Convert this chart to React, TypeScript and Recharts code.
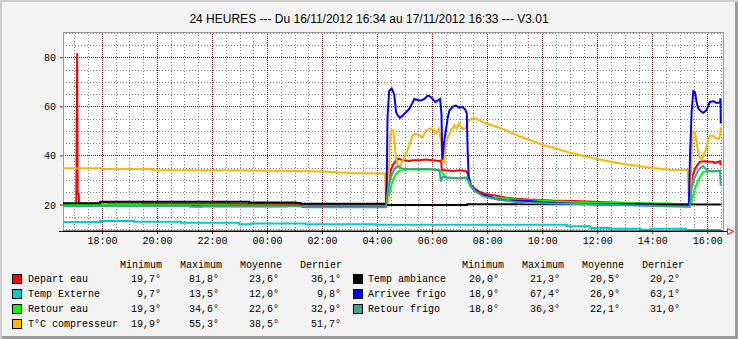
import React from 'react';
import { LineChart, Line, XAxis, YAxis, CartesianGrid, ReferenceArea } from 'recharts';

// time axis: hours since midnight of 16/11/2012 (24+ = next day)
const X_MIN = 16.567;
const X_MAX = 40.55;
const Y_MIN = 9.4;
const Y_MAX = 90.5;

const xTicks = [18, 20, 22, 24, 26, 28, 30, 32, 34, 36, 38, 40];
const yTicks = [20, 40, 60, 80];
const yMinor = [10, 15, 25, 30, 35, 45, 50, 55, 65, 70, 75, 85, 90];
const xMinor = [17, 17.5, 18.5, 19, 19.5, 20.5, 21, 21.5, 22.5, 23, 23.5, 24.5, 25, 25.5, 26.5, 27, 27.5, 28.5, 29, 29.5, 30.5, 31, 31.5, 32.5, 33, 33.5, 34.5, 35, 35.5, 36.5, 37, 37.5, 38.5, 39, 39.5, 40.5];

const departEau: [number, number][] = [
  [16.57, 20.4], [17.05, 20.4], [17.08, 81.8], [17.1, 24.5], [17.14, 24.5], [17.15, 20.5], [17.92, 20.5], [17.92, 21.0],
  [18.24, 21.0], [18.24, 20.5], [22.6, 20.5], [22.6, 20.4], [28.3, 20.4], [28.36, 24.7], [28.42, 30.1], [28.48, 34.2],
  [28.55, 36.2], [28.67, 38.2], [28.76, 38.9], [28.85, 38.5], [28.97, 38.2], [29.15, 37.9], [29.27, 38.2], [29.52, 38.2],
  [29.76, 38.5], [30.0, 38.2], [30.24, 37.9], [30.31, 38.2], [30.33, 34.2], [30.48, 34.2], [30.73, 33.9], [30.97, 34.2],
  [31.21, 33.9], [31.27, 32.8], [31.33, 30.1], [31.39, 28.1], [31.52, 26.8], [31.7, 25.4], [31.92, 24.5], [32.1, 24.2],
  [32.46, 23.5], [32.7, 22.9], [32.95, 22.6], [33.49, 22.2], [33.98, 22.0], [34.34, 21.8], [35.13, 21.6], [36.34, 21.1],
  [37.55, 20.7], [37.92, 20.4], [38.64, 20.4], [39.33, 20.2], [39.38, 26.7], [39.43, 31.4], [39.51, 34.1], [39.59, 35.9],
  [39.71, 37.6], [39.89, 37.8], [40.07, 37.6], [40.2, 37.6], [40.25, 37.1], [40.38, 37.6], [40.44, 37.8], [40.47, 36.1],
];

const tempExterne: [number, number][] = [
  [16.57, 13.1], [17.92, 13.1], [17.92, 13.5], [19.15, 13.5], [19.15, 13.2], [20.85, 13.2], [20.85, 12.8], [22.97, 12.8],
  [22.97, 12.2], [23.39, 12.2], [23.39, 12.5], [25.39, 12.5], [25.39, 12.2], [27.94, 12.2], [27.94, 11.9], [34.88, 11.9],
  [34.88, 11.3], [35.73, 11.3], [35.73, 10.6], [36.46, 10.6], [36.46, 10.3], [37.55, 10.3], [37.55, 9.9], [37.92, 9.9],
  [37.92, 10.3], [39.21, 10.3], [39.21, 9.8], [40.47, 9.8],
];

const retourEau: [number, number][] = [
  [16.57, 20.2], [19.39, 20.2], [19.39, 19.9], [22.6, 19.9], [22.6, 19.8], [28.33, 19.6], [28.4, 23.4], [28.48, 27.4],
  [28.55, 30.1], [28.67, 32.8], [28.79, 33.9], [28.97, 34.5], [29.27, 34.5], [29.76, 34.6], [30.0, 34.5], [30.24, 34.2],
  [30.33, 33.5], [30.48, 31.2], [30.97, 30.9], [31.21, 31.2], [31.27, 30.1], [31.39, 27.4], [31.52, 25.8], [31.7, 24.5],
  [31.94, 23.6], [32.18, 23.2], [32.7, 22.5], [33.49, 21.8], [33.98, 21.8], [34.34, 21.5], [35.25, 21.1], [36.34, 20.8],
  [37.92, 20.7], [38.64, 20.6], [39.38, 20.0], [39.47, 24.0], [39.53, 26.7], [39.63, 29.4], [39.71, 31.4], [39.83, 33.5],
  [40.01, 33.7], [40.25, 33.7], [40.44, 33.8], [40.47, 32.9],
];

const compresseur: [number, number][] = [
  [16.57, 35.0], [17.95, 35.0], [17.95, 34.7], [19.8, 34.7], [19.8, 34.3], [22.5, 34.2], [24.5, 34.0], [26.0, 33.6],
  [27.0, 33.0], [28.27, 32.8], [28.3, 21.0], [28.36, 20.3], [28.41, 35.0], [28.45, 47.7], [28.48, 50.4], [28.57, 50.4],
  [28.61, 45.7], [28.67, 38.9], [28.73, 36.2], [28.79, 35.5], [28.85, 36.2], [28.91, 38.2], [29.03, 40.9], [29.15, 44.3],
  [29.27, 48.4], [29.37, 49.0], [29.52, 48.4], [29.64, 47.7], [29.76, 50.4], [29.88, 51.1], [30.0, 51.1], [30.12, 49.1],
  [30.22, 51.1], [30.3, 46.4], [30.36, 38.2], [30.42, 37.5], [30.46, 43.6], [30.55, 47.7], [30.67, 50.4], [30.79, 52.4],
  [30.87, 51.1], [30.95, 53.1], [31.03, 51.8], [31.09, 51.1], [31.19, 51.1], [31.27, 53.8], [31.39, 55.1], [31.58, 55.3],
  [31.82, 53.8], [32.18, 52.4], [32.67, 50.4], [33.15, 48.0], [34.0, 44.5], [35.0, 41.3], [36.0, 38.6], [37.0, 36.6],
  [38.0, 35.1], [38.6, 34.4], [39.27, 34.3], [39.31, 21.4], [39.37, 22.0], [39.43, 49.9], [39.52, 49.9], [39.58, 46.5],
  [39.64, 41.8], [39.7, 39.5], [39.76, 38.6], [39.82, 39.5], [39.92, 42.4], [40.0, 45.8], [40.07, 48.2], [40.18, 48.2],
  [40.3, 47.2], [40.4, 47.0], [40.45, 48.5], [40.47, 51.7],
];

const tempAmbiance: [number, number][] = [
  [16.57, 20.7], [17.92, 20.7], [17.92, 21.3], [23.33, 21.3], [23.33, 21.0], [25.03, 21.0], [25.03, 20.8], [25.2, 20.8],
  [25.2, 20.5], [28.3, 20.5], [28.33, 20.0], [31.25, 20.0], [31.25, 20.3], [35.5, 20.3], [35.5, 20.4], [38.0, 20.4],
  [38.0, 20.3], [40.47, 20.2],
];

const arriveeFrigo: [number, number][] = [
  [16.57, 19.6], [21.3, 19.6], [21.3, 19.45], [24.7, 19.45], [24.7, 19.6], [25.27, 19.6], [25.27, 19.3], [28.3, 19.3],
  [28.33, 30.0], [28.36, 55.8], [28.42, 66.6], [28.51, 67.4], [28.57, 66.0], [28.61, 64.6], [28.67, 57.8], [28.73, 56.5],
  [28.81, 55.5], [28.91, 56.5], [29.03, 57.8], [29.15, 59.2], [29.25, 61.2], [29.33, 63.2], [29.45, 62.8], [29.58, 62.6],
  [29.7, 63.2], [29.82, 64.6], [29.9, 64.3], [30.0, 63.2], [30.1, 61.9], [30.18, 62.6], [30.27, 63.2], [30.32, 57.0],
  [30.35, 38.5], [30.42, 46.0], [30.48, 50.4], [30.55, 55.8], [30.61, 58.5], [30.73, 60.1], [30.85, 60.5], [30.97, 59.6],
  [31.07, 60.1], [31.19, 58.8], [31.24, 57.2], [31.27, 42.3], [31.31, 31.5], [31.39, 28.1], [31.49, 26.5], [31.73, 24.5],
  [32.1, 23.3], [32.28, 22.4], [32.7, 21.8], [33.49, 21.6], [33.98, 21.1], [34.88, 20.6], [35.37, 20.4], [36.46, 20.0],
  [37.55, 20.0], [37.92, 19.8], [38.64, 19.6], [39.31, 19.5], [39.35, 40.0], [39.41, 58.0], [39.47, 66.4], [39.53, 66.0],
  [39.59, 62.0], [39.65, 59.3], [39.77, 58.0], [39.83, 57.6], [39.95, 58.6], [40.07, 62.0], [40.2, 62.3], [40.32, 61.6],
  [40.44, 61.8], [40.46, 63.4], [40.47, 53.2],
];

const retourFrigo: [number, number][] = [
  [16.57, 19.6], [21.2, 19.6], [21.2, 19.3], [21.6, 19.3], [21.6, 19.5], [25.4, 19.5], [25.4, 19.1], [28.3, 19.1],
  [28.36, 24.7], [28.45, 30.1], [28.55, 33.5], [28.67, 35.5], [28.76, 35.8], [28.85, 35.1], [28.97, 34.7], [29.76, 34.7],
  [30.0, 34.6], [30.24, 34.2], [30.3, 29.5], [30.36, 31.5], [30.48, 31.2], [30.97, 30.8], [31.21, 31.2], [31.33, 29.5],
  [31.45, 26.8], [31.58, 25.4], [31.82, 23.6], [32.18, 22.7], [32.46, 22.0], [32.95, 21.3], [33.37, 20.8], [35.25, 20.4],
  [36.34, 20.1], [38.4, 19.5], [39.35, 19.3], [39.41, 26.7], [39.47, 29.4], [39.53, 31.4], [39.65, 34.1], [39.77, 35.5],
  [39.83, 35.9], [39.89, 35.1], [40.01, 34.1], [40.13, 33.7], [40.44, 34.0], [40.47, 28.0],
];

const seriesNames = ['Depart eau', 'Temp Externe', 'Retour eau', 'T°C compresseur', 'Temp ambiance', 'Arrivee frigo', 'Retour frigo'];
const seriesColors = ['#ff0000', '#00cccc', '#00ff00', '#ffb400', '#000000', '#0000ff', '#3fa096'];
const seriesData = [departEau, tempExterne, retourEau, compresseur, tempAmbiance, arriveeFrigo, retourFrigo];
const statMin = [19.7, 9.7, 19.3, 19.9, 20.0, 18.9, 18.8];
const statMax = [81.8, 13.5, 34.6, 55.3, 21.3, 67.4, 36.3];
const statAvg = [23.6, 12.0, 22.6, 38.5, 20.5, 26.9, 22.1];
const statLast = [36.1, 9.8, 32.9, 51.7, 20.2, 63.1, 31.0];
const statHeaders = ['Minimum', 'Maximum', 'Moyenne', 'Dernier'];

const TITLE = '24 HEURES --- Du 16/11/2012 16:34 au 17/11/2012 16:33 --- V3.01';

const MONO = '"Liberation Mono", "DejaVu Sans Mono", monospace';
const MGRID = '#8b1010';

const fmt = (v: number) => v.toFixed(1).replace('.', ',') + '°';
const hourLabel = (h: number) => String(h % 24).padStart(2, '0') + ':00';

// legend layout (two tables)
const tables = [
  { idx: [0, 1, 2, 3], box: 12, name: 28, head: [120, 180, 240, 300], valEnd: [161, 219, 279, 341] },
  { idx: [4, 5, 6], box: 353, name: 368, head: [462, 522, 582, 642], valEnd: [499, 560, 620, 680] },
];
const HEAD_BASE = 269;
const ROW_BASE = [283, 298, 313, 328];

export default function App() {
  const stats = [statMin, statMax, statAvg, statLast];
  return (
    <div
      style={{
        position: 'absolute',
        left: 0,
        top: 0,
        width: 738,
        height: 339,
        background: '#f3f3f3',
        boxShadow: 'inset 2px 2px 0 #cfcfcf, inset -3px -3px 0 #9c9c9c',
        overflow: 'hidden',
      }}
    >
      <div
        style={{
          position: 'absolute',
          left: 0,
          top: 12,
          width: 738,
          textAlign: 'center',
          fontFamily: '"Liberation Sans", Arial, sans-serif',
          fontSize: 12,
          lineHeight: '14px',
          color: '#000',
        }}
      >
        {TITLE}
      </div>
      <div style={{ position: 'absolute', left: 0, top: 0 }}>
        <LineChart width={738} height={339} margin={{ top: 32, right: 15, bottom: 88, left: 0 }}>
          <CartesianGrid
            horizontalValues={yMinor}
            verticalValues={xMinor}
            stroke="#7f7f7f"
            strokeDasharray="1 2"
            fill="#ffffff"
            fillOpacity={1}
            shapeRendering="crispEdges"
          />
          <CartesianGrid
            horizontalValues={yTicks}
            verticalValues={xTicks}
            stroke={MGRID}
            strokeDasharray="1 1"
            fill="none"
            shapeRendering="crispEdges"
          />
          <ReferenceArea x1={X_MIN} x2={X_MAX} y1={Y_MIN} y2={Y_MAX} fill="none" stroke="#999999" strokeWidth={1} ifOverflow="visible" shapeRendering="crispEdges" />
          <XAxis
            type="number"
            dataKey="t"
            domain={[X_MIN, X_MAX]}
            allowDataOverflow
            ticks={xTicks}
            tickFormatter={hourLabel}
            axisLine={{ stroke: '#000' }}
            tickLine={{ stroke: MGRID }}
            tickSize={3}
            tickMargin={3}
            height={20}
            tick={{ fontFamily: MONO, fontSize: 10, fill: '#000' }}
            interval={0}
          />
          <YAxis
            type="number"
            domain={[Y_MIN, Y_MAX]}
            allowDataOverflow
            ticks={yTicks}
            axisLine={false}
            tickLine={{ stroke: MGRID }}
            tickSize={3}
            tickMargin={4}
            width={63}
            tick={{ fontFamily: MONO, fontSize: 10, fill: '#000' }}
            interval={0}
          />
          {seriesData.map((d, i) => (
            <Line
              key={seriesNames[i]}
              data={d.map(([t, v]) => ({ t, v }))}
              dataKey="v"
              type="linear"
              stroke={seriesColors[i]}
              strokeWidth={2}
              dot={false}
              activeDot={false}
              isAnimationActive={false}
            />
          ))}
        </LineChart>
      </div>
      <svg width={738} height={339} style={{ position: 'absolute', left: 0, top: 0, pointerEvents: 'none' }}>
        <line x1={59} y1={231.5} x2={727} y2={231.5} stroke="#000" strokeWidth={1} />
        <polygon points="727.5,228.5 733.5,231.5 727.5,234.5" fill="none" stroke="#ff0000" strokeWidth={1} />
      </svg>
      {tables.map((tb, ti) => (
        <React.Fragment key={ti}>
          {statHeaders.map((h, k) => (
            <span
              key={h}
              style={{ position: 'absolute', left: tb.head[k], top: HEAD_BASE - 8, fontFamily: MONO, fontSize: 10, lineHeight: '10px', whiteSpace: 'pre', color: '#000' }}
            >
              {h}
            </span>
          ))}
          {tb.idx.map((si, r) => (
            <React.Fragment key={si}>
              <div
                style={{
                  position: 'absolute',
                  left: tb.box,
                  top: ROW_BASE[r] - 9,
                  width: 8,
                  height: 8,
                  background: seriesColors[si],
                  border: '1px solid #000',
                }}
              />
              <span
                style={{ position: 'absolute', left: tb.name, top: ROW_BASE[r] - 8, fontFamily: MONO, fontSize: 10, lineHeight: '10px', whiteSpace: 'pre', color: '#000' }}
              >
                {seriesNames[si]}
              </span>
              {stats.map((arr, k) => (
                <span
                  key={k}
                  style={{
                    position: 'absolute',
                    left: tb.valEnd[k] - 60,
                    width: 60,
                    textAlign: 'right',
                    top: ROW_BASE[r] - 8,
                    fontFamily: MONO,
                    fontSize: 10,
                    lineHeight: '10px',
                    whiteSpace: 'pre',
                    color: '#000',
                  }}
                >
                  {fmt(arr[si])}
                </span>
              ))}
            </React.Fragment>
          ))}
        </React.Fragment>
      ))}
    </div>
  );
}
